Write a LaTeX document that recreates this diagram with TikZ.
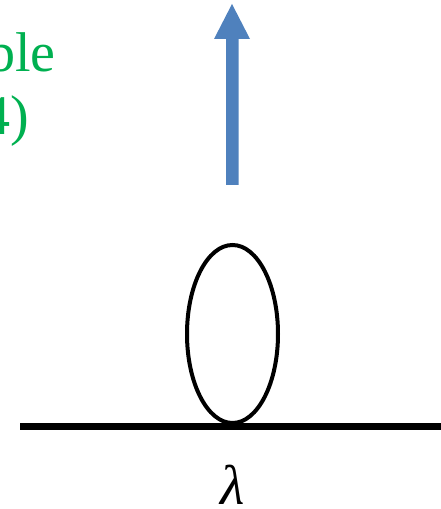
\documentclass[tikz,border=0pt]{standalone}
\usepackage{fontspec}
\setmainfont{Liberation Serif}
\definecolor{labelgreen}{RGB}{0,176,80}
\definecolor{arrowblue}{RGB}{79,129,189}
\begin{document}
\begin{tikzpicture}[x=1pt, y=1pt,
  greentext/.style={text=labelgreen, font=\fontsize{56}{60}\selectfont, inner sep=0pt}]
  \useasboundingbox (0,0) rectangle (441,509);
  % label, cut off at the left edge
  \node[greentext, anchor=base east] (top) at (56,437) {ble};
  \node[greentext, anchor=base east] (bot) at (29,374) {4)};
  % upward arrow
  \fill[arrowblue] (226,324) -- (226,470) -- (214,470) -- (232,505)
    -- (250,470) -- (238.5,470) -- (238.5,324) -- cycle;
  % loop on the line
  \coordinate (left) at (20,82);
  \coordinate (right) at (441,82);
  \draw[line width=7pt] (left) -- (right);
  \draw[line width=4pt] (232.5,175) ellipse (45.5 and 89);
  \node[inner sep=0pt, anchor=base, font=\fontsize{56}{60}\selectfont\itshape] (lam) at (233,5) {λ};
\end{tikzpicture}
\end{document}
